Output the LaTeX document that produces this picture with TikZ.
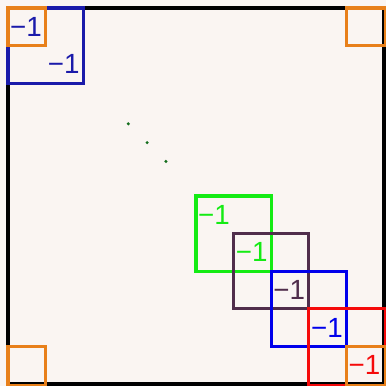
\documentclass[tikz,border=0pt]{standalone}
\usepackage{fontspec}
\setmainfont{Liberation Sans}
\definecolor{paper}{RGB}{250,245,242}
\definecolor{cornerorange}{RGB}{232,128,26}
\definecolor{topblue}{RGB}{26,26,170}
\definecolor{blockgreen}{RGB}{20,235,20}
\definecolor{blockplum}{RGB}{80,45,75}
\definecolor{blockblue}{RGB}{0,0,235}
\definecolor{blockred}{RGB}{245,10,10}
\definecolor{dotgreen}{RGB}{20,110,30}
\tikzset{
  blockline/.style={line width=2.4pt},
  entry/.style={font=\fontsize{21}{25}\selectfont, inner sep=0pt},
}
\begin{document}
\begin{tikzpicture}[x=1cm,y=-1cm]
\fill[paper] (-0.213,-0.213) rectangle (10.053,10.053);
\useasboundingbox (-0.213,-0.213) rectangle (10.053,10.053);
% outer frame
\draw[line width=2.6pt] (0,0) rectangle (10,10);
% top-left block
\draw[blockline,topblue] (0,0) rectangle (2,2);
\node[entry,text=topblue] (a11) at (0.48,0.5) {−1};
\node[entry,text=topblue] (a22) at (1.48,1.5) {−1};
% dots
\fill[dotgreen] (3.2,3.08) circle (0.045);
\fill[dotgreen] (3.7,3.58) circle (0.045);
\fill[dotgreen] (4.2,4.08) circle (0.045);
% diagonal blocks
\draw[blockline,blockgreen] (5,5) rectangle (7,7);
\draw[blockline,blockplum] (6,6) rectangle (8,8);
\draw[blockline,blockblue] (7,7) rectangle (9,9);
\draw[blockline,blockred] (8,8) rectangle (10.05,10.05);
\node[entry,text=blockgreen] (b55) at (5.48,5.5) {−1};
\node[entry,text=blockgreen] (b66) at (6.48,6.5) {−1};
\node[entry,text=blockplum] (b77) at (7.48,7.5) {−1};
\node[entry,text=blockblue] (b88) at (8.48,8.5) {−1};
\node[entry,text=blockred] (b99) at (9.48,9.5) {−1};
% corners
\draw[blockline,cornerorange] (0,0) rectangle (1,1);
\draw[blockline,cornerorange] (9,0) rectangle (10.05,1);
\draw[blockline,cornerorange] (0,9) rectangle (1,10.05);
\draw[blockline,cornerorange] (9,9) rectangle (10.05,10.05);
\end{tikzpicture}
\end{document}
